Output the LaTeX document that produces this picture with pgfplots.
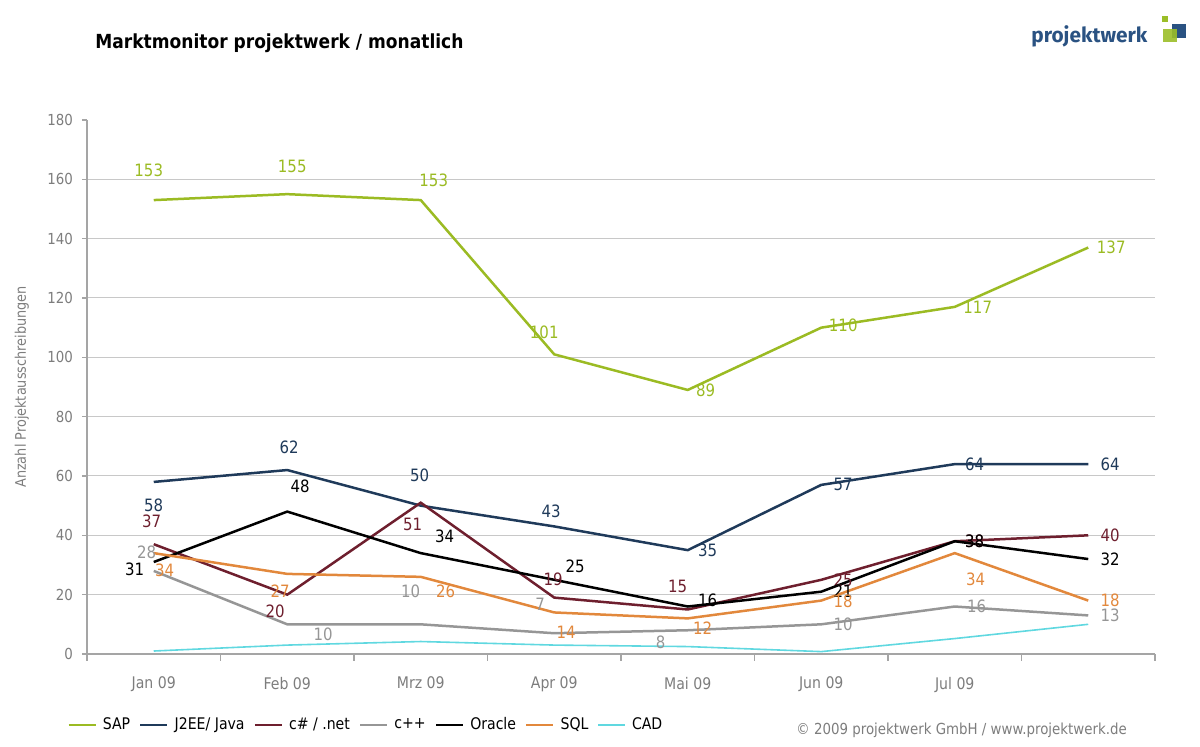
\documentclass[border=0pt]{standalone}
\usepackage{pgfplots}
\pgfplotsset{compat=1.18}
\usepackage{pgfplotstable}
\usepackage{fontspec}
\setmainfont{DejaVu Sans}[FakeStretch=0.88]
\newfontfamily\logofont{Fira Sans}
\definecolor{sapc}{RGB}{155,187,35}
\definecolor{javac}{RGB}{31,58,90}
\definecolor{netc}{RGB}{110,31,46}
\definecolor{cppc}{RGB}{150,150,150}
\definecolor{orac}{RGB}{0,0,0}
\definecolor{sqlc}{RGB}{226,136,60}
\definecolor{cadc}{RGB}{96,216,224}
\definecolor{gridc}{RGB}{200,200,200}
\definecolor{axisc}{RGB}{165,165,165}
\definecolor{tickc}{RGB}{125,125,125}
\definecolor{logoc}{RGB}{42,82,130}
\definecolor{logog}{RGB}{155,190,40}

% x = month index, y = value, dx/dy = label offset (pt)
\pgfplotstableread{
x y dx dy
0 153 -2.5 15
1 155 2.5 14
2 153 6.5 10
3 101 -5 11
4 89 9 0
5 110 11 1
6 117 11.5 0
7 137 11.5 0
}\sapdata
\pgfplotstableread{
x y dx dy
0 58 0 -11.5
1 62 1 11.5
2 50 -0.5 15
3 43 -1.5 7.5
4 35 10 0
5 57 11 0
6 64 10 0
7 64 11 0
}\javadata
\pgfplotstableread{
x y dx dy
0 37 -1 11.5
1 20 -6 -8.5
2 51 -4 -11
3 19 -0.5 9
4 15 -5 11.5
5 25 11 0
6 38 10 0
7 40 11 0
}\netdata
\pgfplotstableread{
x y dx dy
0 28 -3.5 9.5
1 10 18 -5
2 10 -5 16.5
3 7 -7 14.5
4 8 -13.5 -6
5 10 11 0
6 16 11 0
7 13 11 0
}\cppdata
\pgfplotstableread{
x y dx dy
0 31 -9.5 -3.5
1 48 6.5 12.5
2 34 12 8.5
3 25 10.5 7
4 16 10 3
5 21 11 0
6 38 10 0
7 32 11 0
}\oradata
\pgfplotstableread{
x y dx dy
0 34 5.5 -8.5
1 27 -3.5 -8.5
2 26 12.5 -7
3 14 6 -10
4 12 7.5 -5
5 18 11 -0.5
6 34 10.5 -13
7 18 11 0
}\sqldata
\pgfplotstableread{
x y
0 1
1 3
2 4.2
3 3
4 2.5
5 0.8
6 5.2
7 10
}\caddata

\pgfplotsset{
  labelled/.style={
    line width=1.25pt, mark=none, color=#1,
    nodes near coords,
    visualization depends on={\thisrow{dx} \as \dx},
    visualization depends on={\thisrow{dy} \as \dy},
    every node near coord/.append style={anchor=center, xshift=\dx, yshift=\dy,
      font=\fontsize{8.5}{10}\selectfont, text=#1, inner sep=0pt},
  },
}

\begin{document}
\begin{tikzpicture}
\useasboundingbox (0,0) rectangle (600pt,373.5pt);
\node[anchor=base west, inner sep=0pt, font=\fontsize{9.7}{11}\selectfont\bfseries] at (47.5pt,349pt) {Marktmonitor projektwerk / monatlich};
\node[anchor=base west, inner sep=0pt, font=\logofont\bfseries\fontsize{10.4}{12}\selectfont, text=logoc] at (515.5pt,352pt) {projektwerk};
\fill[logoc] (586pt,354.5pt) rectangle (593pt,361.5pt);
\fill[logog] (581pt,362.5pt) rectangle (584pt,365.5pt);
\fill[logog, opacity=0.9] (581.5pt,352.5pt) rectangle (588.5pt,359pt);
\node[anchor=base west, inner sep=0pt, font=\fontsize{7.6}{9}\selectfont, text=tickc] at (398pt,6pt) {© 2009 projektwerk GmbH / www.projektwerk.de};
\begin{axis}[
  at={(43.5pt,46.5pt)}, anchor=south west,
  scale only axis, width=534pt, height=267pt,
  xmin=-0.5, xmax=7.5, ymin=0, ymax=180,
  axis x line*=bottom, axis y line*=left,
  axis line style={axisc, line width=0.6pt, -},
  /pgf/number format/assume math mode=true,
  xtick={0,...,7},
  xticklabels={Jan 09,Feb 09,Mrz 09,Apr 09,Mai 09,Jun 09,Jul 09,{}},
  minor xtick={-0.5,0.5,...,7.5},
  major x tick style={draw=none},
  minor x tick style={axisc, line width=0.6pt},
  tick align=outside,
  minor tick length=3.5pt,
  major tick length=2.5pt,
  ytick={0,20,...,160},
  extra y ticks={180},
  extra y tick style={grid=none},
  ytick style={axisc, line width=0.6pt},
  ymajorgrids,
  major grid style={gridc, line width=0.5pt},
  yticklabel style={font=\fontsize{7.6}{9}\selectfont, text=tickc, xshift=-1pt},
  xticklabel style={font=\fontsize{8}{9}\selectfont, text=tickc, yshift=-5.5pt},
  ylabel={Anzahl Projektausschreibungen},
  ylabel style={at={(axis description cs:-0.061,0.5)}, anchor=center, font=\fontsize{7.3}{9}\selectfont, text=tickc},
  legend style={at={(axis description cs:-0.0187,-0.133)}, anchor=west, draw=none, fill=none,
    inner sep=0pt, font=\fontsize{8}{10}\selectfont, legend columns=-1,
    nodes={inner sep=0pt},
    /tikz/every odd column/.append style={column sep=3pt},
    /tikz/every even column/.append style={column sep=4.5pt}},
  legend image code/.code={\draw[#1] (0pt,0pt) -- (13.5pt,0pt);},
  clip=false,
]
\addplot[labelled=sapc] table[x=x,y=y] {\sapdata};
\addplot[labelled=javac] table[x=x,y=y] {\javadata};
\addplot[labelled=netc] table[x=x,y=y] {\netdata};
\addplot[labelled=cppc] table[x=x,y=y] {\cppdata};
\addplot[labelled=orac] table[x=x,y=y] {\oradata};
\addplot[labelled=sqlc] table[x=x,y=y] {\sqldata};
\addplot[cadc, line width=0.8pt, mark=none] table[x=x,y=y] {\caddata};
\legend{SAP,J2EE/ Java,c\# / .net,c++,Oracle,SQL,CAD}
\end{axis}
\end{tikzpicture}
\end{document}
